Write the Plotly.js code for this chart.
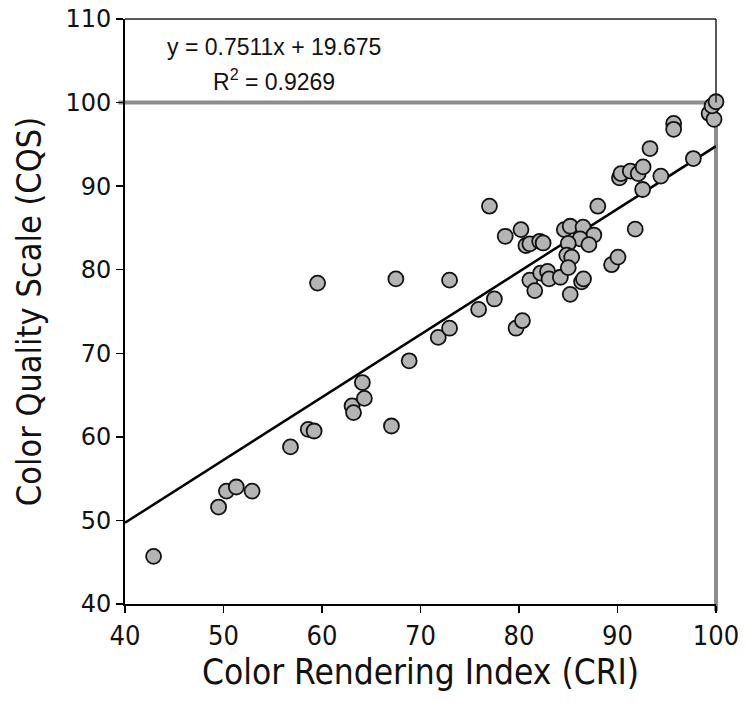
<!DOCTYPE html>
<html>
<head>
<meta charset="utf-8">
<script src="https://cdn.plot.ly/plotly-3.0.1.min.js"></script>
<style>html,body{margin:0;padding:0;background:#fff;}#chart{width:747px;height:702px;}</style>
</head>
<body>
<div id="chart"></div>
<script>
// Data
const cri = [42.9, 49.5, 50.3, 51.3, 52.9, 56.8, 58.6, 59.2, 59.55, 63.05, 63.2, 64.1, 64.3, 67.05, 67.5, 68.85,
  71.8, 72.95, 72.95, 75.9, 77.5, 77.0, 78.6, 79.7, 80.35, 80.2, 80.7, 81.1, 81.1, 81.6, 82.1, 82.45, 82.2, 82.9,
  83.05, 84.2, 84.6, 85.2, 86.5, 87.6, 86.2, 87.1, 85.0, 84.85, 85.35, 85.0, 85.2, 86.35, 86.55, 88.0, 89.4, 90.05,
  91.8, 90.2, 90.35, 91.3, 92.1, 92.6, 92.55, 93.3, 94.4, 95.7, 95.7, 97.7, 99.3, 99.8, 99.6, 100.0];
const cqs = [45.7, 51.6, 53.5, 54.0, 53.5, 58.8, 60.9, 60.7, 78.4, 63.7, 62.9, 66.5, 64.6, 61.3, 78.9, 69.1,
  71.9, 73.0, 78.75, 75.25, 76.5, 87.6, 84.0, 73.0, 73.9, 84.8, 82.9, 83.1, 78.75, 77.5, 83.4, 83.2, 79.6, 79.8,
  78.9, 79.1, 84.8, 85.2, 85.1, 84.15, 83.7, 83.0, 83.15, 81.75, 81.5, 80.25, 77.05, 78.55, 78.9, 87.6, 80.6, 81.5,
  84.85, 91.0, 91.5, 91.8, 91.5, 92.3, 89.6, 94.5, 91.2, 97.5, 96.8, 93.3, 98.7, 98.0, 99.6, 100.1];
const slope = 0.7511;
const intercept = 19.675;
const rSquared = 0.9269;
const xTicks = [40, 50, 60, 70, 80, 90, 100];
const yTicks = [40, 50, 60, 70, 80, 90, 100, 110];
const xRange = [40, 100];
const yRange = [40, 110];
const refLevel = 100;

const fitX = xRange.slice();
const fitY = fitX.map(v => slope * v + intercept);
// convert data values to paper fractions (so frame lines are not clipped)
const px = v => (v - xRange[0]) / (xRange[1] - xRange[0]);
const py = v => (v - yRange[0]) / (yRange[1] - yRange[0]);

const traces = [
  {x: fitX, y: fitY, type: 'scatter', mode: 'lines', line: {color: '#000', width: 2.5}, hoverinfo: 'skip'},
  {x: cri, y: cqs, type: 'scatter', mode: 'markers', cliponaxis: false,
   marker: {size: 15, color: '#b4b4b4', line: {color: '#111', width: 1.8}}}
];

const condensed = 'DejaVu Sans Condensed, DejaVu Sans, sans-serif';
const gray = '#8c8c8c';
const layout = {
  width: 747, height: 702,
  margin: {l: 125, r: 31, t: 19, b: 98},
  paper_bgcolor: '#fff', plot_bgcolor: 'rgba(0,0,0,0)',
  showlegend: false,
  xaxis: {range: xRange, tickvals: xTicks, ticktext: xTicks.map(String), ticks: 'outside', ticklen: 7, tickwidth: 1.5,
    tickcolor: '#000', showline: true, linecolor: '#000', linewidth: 2, mirror: false, showgrid: false, zeroline: false,
    tickfont: {family: condensed, size: 27, color: '#111'},
    title: {text: 'Color Rendering Index (CRI)', standoff: 9, font: {family: condensed, size: 35, color: '#111'}}},
  yaxis: {range: yRange, tickvals: yTicks, ticktext: yTicks.map(String), ticks: 'outside', ticklen: 7, tickwidth: 1.5,
    tickcolor: '#000', showline: true, linecolor: '#000', linewidth: 2, mirror: false, showgrid: false, zeroline: false,
    tickfont: {family: 'DejaVu Sans, Verdana, sans-serif', size: 24, color: '#111'},
    title: {text: 'Color Quality Scale (CQS)', standoff: 13, font: {family: condensed, size: 34, color: '#111'}}},
  shapes: [
    {type: 'line', xref: 'paper', yref: 'paper', x0: 0, x1: 1, y0: 1, y1: 1,
     line: {color: '#222', width: 1.5}, layer: 'above'},
    {type: 'line', xref: 'paper', yref: 'paper', x0: 1, x1: 1, y0: py(refLevel), y1: 1,
     line: {color: '#222', width: 1.5}, layer: 'above'},
    {type: 'line', xref: 'paper', yref: 'paper', x0: -0.011, x1: 1.003, y0: py(refLevel), y1: py(refLevel),
     line: {color: gray, width: 4}, layer: 'below'},
    {type: 'line', xref: 'paper', yref: 'paper', x0: px(xRange[1]), x1: px(xRange[1]), y0: -0.012, y1: py(refLevel),
     line: {color: gray, width: 4}, layer: 'below'}
  ],
  annotations: [
    {xref: 'x', yref: 'y', x: 55.1, y: 106.6, showarrow: false, xanchor: 'center', yanchor: 'middle',
     text: 'y = ' + slope + 'x + ' + intercept,
     font: {family: 'Liberation Sans, Arial, sans-serif', size: 23, color: '#111'}},
    {xref: 'x', yref: 'y', x: 55.15, y: 102.7, showarrow: false, xanchor: 'center', yanchor: 'middle',
     text: 'R<sup>2</sup> = ' + rSquared,
     font: {family: 'Liberation Sans, Arial, sans-serif', size: 23, color: '#111'}}
  ]
};

Plotly.newPlot('chart', traces, layout, {displayModeBar: false, staticPlot: true});
</script>
</body>
</html>
